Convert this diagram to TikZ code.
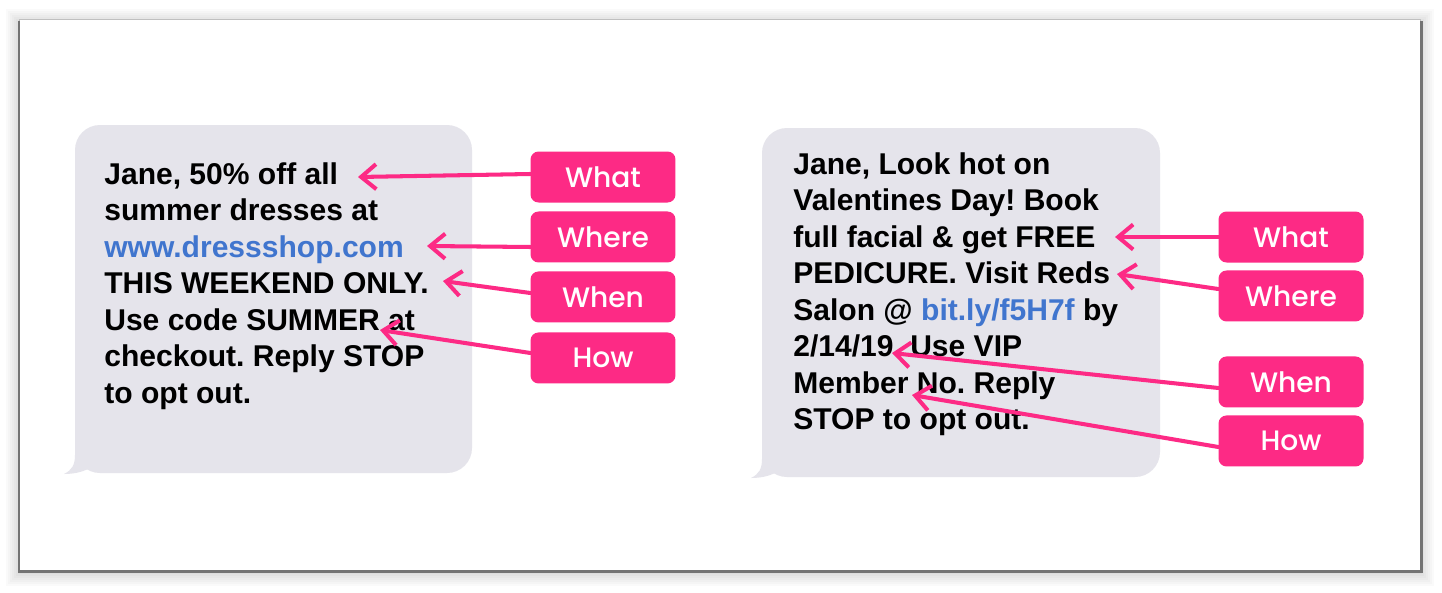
\documentclass[tikz,border=0pt]{standalone}
\usepackage{fontspec}
\setmainfont{Liberation Sans}
\newfontfamily\tagfont{Poppins}[UprightFont=* Medium]
\usepackage{tikz}
\usetikzlibrary{arrows.meta}
\usetikzlibrary{positioning}

\definecolor{tagpink}{RGB}{253,42,133}
\definecolor{bubblegrey}{RGB}{229,228,235}
\definecolor{linkblue}{RGB}{64,117,206}

\frenchspacing

\begin{document}
\begin{tikzpicture}[x=0.02cm, y=-0.02cm, on grid, >={Straight Barb[length=0.3cm,width=0.5cm]},
    tag/.style={fill=tagpink, rounded corners=0.16cm, minimum width=2.9cm, minimum height=1.02cm,
                inner sep=0pt, text=white, font=\tagfont\fontsize{16pt}{18pt}\selectfont},
    pointer/.style={->, draw=tagpink, line width=2.3pt, line cap=round, line join=round},
    sms/.style={anchor=north west, inner sep=0pt, align=left,
                font=\bfseries\fontsize{17.1pt}{20.8pt}\selectfont}]

        \useasboundingbox (0,0) rectangle (1442,592);
        \fill[white] (0,0) rectangle (1442,592);

        % card and its shadow
        \foreach \s in {2,4,...,14}
          \fill[black, opacity=0.018] (20-\s,20-\s+3) rectangle (1420+\s,570+\s+2);
        \fill[black!25] (19,19) rectangle (1421,571);
        \fill[black!55] (18,21) rectangle (1423,573);
        \fill[white]    (20,20) rectangle (1420,570);

        % message bubbles
        \fill[bubblegrey, rounded corners=0.5cm] (75,125) rectangle (472,473);
        \fill[bubblegrey] (75,440) -- (75,455) .. controls (75,465) and (72,470) .. (64,474)
                          .. controls (76,474) and (86,471) .. (93,466) -- (100,450) -- cycle;
        \fill[bubblegrey, rounded corners=0.5cm] (762,128) rectangle (1160,477);
        \fill[bubblegrey] (762,444) -- (762,459) .. controls (762,469) and (759,474) .. (751,478)
                          .. controls (763,478) and (773,475) .. (780,470) -- (787,454) -- cycle;

        \node[sms] (msg_l) at (104,162)
          {Jane, 50\% off all\\summer dresses at\\{\color{linkblue}www.dressshop.com}\\
           THIS WEEKEND ONLY.\\Use code SUMMER at\\checkout. Reply STOP\\to opt out.};
        \node[sms] (msg_r) at (793,152)
          {Jane, Look hot on\\Valentines Day! Book\\full facial \& get FREE\\PEDICURE. Visit Reds\\
           Salon @ {\color{linkblue}bit.ly/f5H7f} by\\2/14/19. Use VIP\\Member No. Reply\\STOP to opt out.};

        % tags
        \node[tag] (what_l)  at (603,177)              {What};
        \node[tag] (where_l) [below=1.2cm of what_l]   {Where};
        \node[tag] (when_l)  [below=1.2cm of where_l]  {When};
        \node[tag] (how_l)   [below=1.22cm of when_l]  {How};

        \node[tag] (what_r)  at (1291,237)             {What};
        \node[tag] (where_r) [below=1.18cm of what_r]  {Where};
        \node[tag] (when_r)  [below=1.72cm of where_r] {When};
        \node[tag] (how_r)   [below=1.18cm of when_r]  {How};

        \coordinate (tip_what_l)  at (358,177);
        \coordinate (tip_where_l) at (427,246);
        \coordinate (tip_when_l)  at (443,281);
        \coordinate (tip_how_l)   at (380,330);

        \coordinate (tip_what_r)  at (1115,237);
        \coordinate (tip_where_r) at (1117,274);
        \coordinate (tip_when_r)  at (892,353);
        \coordinate (tip_how_r)   at (912,395);

        \draw[pointer] ([yshift=0.06cm]what_l.west)   -- (tip_what_l);
        \draw[pointer] ([yshift=-0.2cm]where_l.west)  -- (tip_where_l);
        \draw[pointer] ([yshift=0.08cm]when_l.west)   -- (tip_when_l);
        \draw[pointer] ([yshift=0.1cm]how_l.west)     -- (tip_how_l);

        \draw[pointer] (what_r.west)                  -- (tip_what_r);
        \draw[pointer] ([yshift=0.14cm]where_r.west)  -- (tip_where_r);
        \draw[pointer] ([yshift=-0.12cm]when_r.west)  -- (tip_when_r);
        \draw[pointer] ([yshift=-0.12cm]how_r.west)   -- (tip_how_r);

\end{tikzpicture}
\end{document}
